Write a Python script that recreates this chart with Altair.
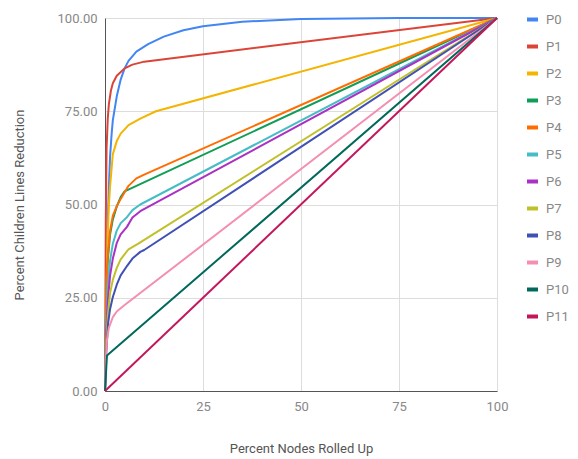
import altair as alt
import pandas as pd

series = ["P0", "P1", "P2", "P3", "P4", "P5", "P6", "P7", "P8", "P9", "P10", "P11"]
colors = ["#4285F4", "#DB4437", "#F4B400", "#0F9D58", "#FF6D00", "#46BDC6",
          "#AB30C4", "#C0C02A", "#3F51B5", "#F48FB1", "#00695C", "#C2185B"]

p0_x = [0, 0.3, 0.7, 1, 1.3, 1.7, 2, 3, 4, 5, 6, 8, 11, 15, 20, 25, 35, 50, 75, 100]
p0_y = [0, 20, 45, 55, 63, 69, 72.6, 79, 83.5, 86.5, 88.5, 91, 93, 95, 96.7, 97.8, 99, 99.7, 100, 100]
p1_x = [0, 0.2, 0.4, 0.7, 1, 1.5, 2, 3, 5, 7, 10, 100]
p1_y = [0, 45, 65, 73, 77, 80.5, 82.5, 84.5, 86.5, 87.5, 88.3, 100]
p2_x = [0, 0.3, 0.7, 1, 1.3, 2, 3, 4, 6, 9, 13, 100]
p2_y = [0, 25, 42, 50, 55, 63.5, 67, 69, 71.3, 73, 75, 100]
p3_x = [0, 0.3, 0.7, 1.3, 2, 3, 4, 5, 100]
p3_y = [0, 25, 35, 42, 46, 49.5, 52, 53.5, 100]
p4_x = [0, 0.3, 0.7, 1.3, 2, 3, 4, 6, 8, 10, 100]
p4_y = [0, 25, 36, 43, 47, 49.5, 51.5, 55, 57, 58, 100]
p5_x = [0, 0.3, 0.7, 1.3, 2, 3, 4, 5.6, 7, 9, 100]
p5_y = [0, 18, 28, 35, 39.5, 43, 45, 46.6, 48.5, 50, 100]
p6_x = [0, 0.3, 0.7, 1.3, 2, 3, 4, 5.6, 7, 9, 100]
p6_y = [0, 15, 24, 31, 35.5, 39.7, 42, 44, 46.5, 48.2, 100]
p7_x = [0, 0.3, 0.7, 1.3, 2, 3, 4, 6, 8.5, 100]
p7_y = [0, 12, 20, 26.3, 29.8, 33, 35.3, 38, 39.5, 100]
p8_x = [0, 0.3, 0.8, 1.3, 2, 3, 4, 5.6, 7, 9, 10, 100]
p8_y = [0, 10, 18.2, 22, 25.2, 28.5, 31, 33.5, 35.5, 37.3, 37.8, 100]
p9_x = [0, 0.2, 0.5, 1, 2, 3, 4.6, 100]
p9_y = [0, 8, 13.7, 17, 19.8, 21.3, 22.7, 100]
p10_x = [0, 0.5, 100]
p10_y = [0, 9.5, 100]
p11_x = [0, 100]
p11_y = [0, 100]

xs_all = [p0_x, p1_x, p2_x, p3_x, p4_x, p5_x, p6_x, p7_x, p8_x, p9_x, p10_x, p11_x]
ys_all = [p0_y, p1_y, p2_y, p3_y, p4_y, p5_y, p6_y, p7_y, p8_y, p9_y, p10_y, p11_y]

rows = []
for name, xs, ys in zip(series, xs_all, ys_all):
    for i, (a, b) in enumerate(zip(xs, ys)):
        rows.append({"series": name, "x": a, "y": b, "i": i})
df = pd.DataFrame(rows)

font = "Roboto"
ticks = [0, 25, 50, 75, 100]

chart = alt.Chart(df).mark_line(strokeWidth=2, strokeJoin="round").encode(
    x=alt.X("x:Q", scale=alt.Scale(domain=[0, 100], nice=False),
            axis=alt.Axis(values=ticks, title="Percent Nodes Rolled Up", ticks=False,
                          labelFlush=False, labelPadding=9, titlePadding=29, format="d")),
    y=alt.Y("y:Q", scale=alt.Scale(domain=[0, 100], nice=False),
            axis=alt.Axis(values=ticks, title="Percent Children Lines Reduction", ticks=False,
                          labelFlush=False, labelPadding=8, titlePadding=31, format=".2f")),
    color=alt.Color("series:N", scale=alt.Scale(domain=series, range=colors),
                    legend=alt.Legend(title=None, orient="none", legendX=420, legendY=-6,
                                      symbolType="stroke", symbolStrokeWidth=4, symbolSize=120,
                                      labelFontSize=13, labelFont=font, labelColor="#888888",
                                      labelOffset=6, rowPadding=10)),
    order=alt.Order("i:Q"),
).properties(
    width=392, height=373,
    padding={"left": 97, "top": 10, "right": 73, "bottom": 68},
    autosize="none",
).configure_view(stroke=None).configure_axis(
    labelFont=font, titleFont=font, labelFontSize=13, titleFontSize=13,
    labelColor="#888888", titleColor="#555555", titleFontWeight="normal",
    gridColor="#dddddd", domainColor="#555555",
)

chart.save("out.html", embed_options={"renderer": "svg", "actions": False})
